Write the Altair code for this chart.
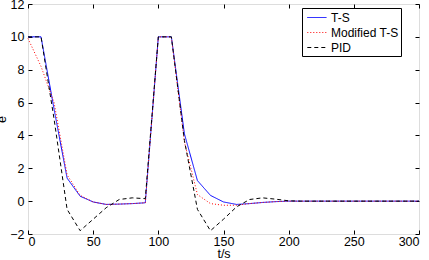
import altair as alt
import pandas as pd

t = list(range(0, 301, 10))
ts = [10, 10, 5.6, 1.4, 0.3, -0.05, -0.2, -0.18, -0.15, -0.1,
      10, 10, 4.1, 1.25, 0.35, -0.05, -0.2, -0.15, -0.08, -0.03,
      0, 0, 0, 0, 0, 0, 0, 0, 0, 0, 0]
mts = [9.9, 8.2, 6.0, 1.6, 0.35, -0.05, -0.2, -0.18, -0.15, -0.1,
       10, 10, 3.6, 0.4, -0.15, -0.25, -0.25, -0.15, -0.08, -0.03,
       0, 0, 0, 0, 0, 0, 0, 0, 0, 0, 0]
pid = [10, 10, 5.0, -0.5, -1.8, -1.1, -0.4, 0.1, 0.2, 0.15,
       10, 10, 3.7, -0.5, -1.8, -1.1, -0.35, 0.1, 0.2, 0.12,
       0.02, 0, 0, 0, 0, 0, 0, 0, 0, 0, 0]
series = ["T-S", "Modified T-S", "PID"]
colors = ["#0000ff", "#ff0000", "#000000"]
dashes = [[1, 0], [1, 2], [4, 3]]

rows = []
for name, vals in zip(series, [ts, mts, pid]):
    for k, (tt, v) in enumerate(zip(t, vals)):
        rows.append({"t": tt, "e": v, "s": name, "o": k})
df = pd.DataFrame(rows)

xs = alt.Scale(domain=[0, 300], nice=False, zero=False)
ys = alt.Scale(domain=[-2, 12], nice=False, zero=False)
FONT = "Liberation Sans"

common_axis = dict(grid=False, domain=False, tickColor="black", tickSize=4,
                   offset=-4, labelColor="black", labelFont=FONT,
                   labelFontSize=12.5, titleFont=FONT, titleFontSize=12.5,
                   titleFontWeight="normal", titleColor="black")

legend = alt.Legend(orient="none", legendX=274, legendY=4, strokeColor="black",
                    fillColor="white", padding=2, labelFont=FONT, labelFontSize=12,
                    labelColor="black", symbolType="M-0.6,0H2.15", symbolSize=196,
                    symbolStrokeWidth=1, rowPadding=1, labelOffset=12, title=None)

lines = alt.Chart(df).mark_line(strokeWidth=1).encode(
    x=alt.X("t:Q", scale=xs, title="t/s",
            axis=alt.Axis(values=[0, 50, 100, 150, 200, 250, 300], labelPadding=1,
                          titlePadding=0, **common_axis)),
    y=alt.Y("e:Q", scale=ys, title="e",
            axis=alt.Axis(values=[-2, 0, 2, 4, 6, 8, 10, 12], labelPadding=4,
                          titlePadding=1, **common_axis)),
    color=alt.Color("s:N", scale=alt.Scale(domain=series, range=colors),
                    sort=series, legend=legend),
    strokeDash=alt.StrokeDash("s:N", scale=alt.Scale(domain=series, range=dashes),
                              sort=series, legend=legend),
    order="o:Q",
)

mirror = alt.Chart(df).mark_point(opacity=0).encode(
    x=alt.X("t:Q", scale=xs,
            axis=alt.Axis(orient="top", values=[0, 50, 100, 150, 200, 250, 300],
                          labels=False, title=None, grid=False, domain=False,
                          tickColor="black", tickSize=4, offset=-4)),
    y=alt.Y("e:Q", scale=ys,
            axis=alt.Axis(orient="right", values=[-2, 0, 2, 4, 6, 8, 10, 12],
                          labels=False, title=None, grid=False, domain=False,
                          tickColor="black", tickSize=4, offset=-4)),
)

chart = alt.layer(mirror, lines).resolve_axis(x="independent", y="independent").properties(
    width=391, height=230,
    padding={"left": 28, "top": 4, "right": 10, "bottom": 26},
    autosize=alt.AutoSizeParams(type="none"),
).configure_view(stroke="black", strokeWidth=1).configure(background="white")

chart.save("out.html", embed_options={"renderer": "svg", "actions": False})
